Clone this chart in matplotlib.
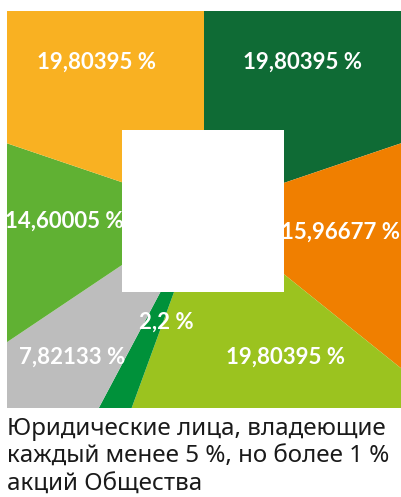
import matplotlib.pyplot as plt
from matplotlib.patches import Rectangle

# shares, clockwise from 12 o'clock
shares = [19.80395, 15.96677, 19.80395, 2.2, 7.82133, 14.60005, 19.80395]
labels = ['19,80395 %', '15,96677 %', '19,80395 %', '2,2 %', '7,82133 %', '14,60005 %', '19,80395 %']
colors = ['#0F6B35', '#F07F00', '#9BC31F', '#00913A', '#BDBDBD', '#60B133', '#F9B122']
title = 'Юридические лица, владеющие\nкаждый менее 5 %, но более 1 %\nакций Общества'

# label centres, pixels relative to pie centre
label_xy = [(99, 148), (137, -22), (82, -147), (-38, -112), (-132, -147), (-140, -11), (-107, 148)]

W, H = 401, 497
fig = plt.figure(figsize=(W / 100, H / 100), dpi=100)

# square plot area: x 7..401, y 11..408 (pixels from top), pie centre at (204, 210)
cx, cy = 204, 210
left, right, top, bottom = 7, 401, 11, 408
ax = fig.add_axes([left / W, (H - bottom) / H, (right - left) / W, (bottom - top) / H])

ax.pie(shares, colors=colors, radius=600, startangle=90, counterclock=False,
       wedgeprops=dict(linewidth=0, clip_on=True))
ax.set_aspect('auto')
ax.set_xlim(left - cx, right - cx)
ax.set_ylim(-(bottom - cy), cy - top)
ax.axis('off')

ax.add_patch(Rectangle((-82, -82), 162, 162, facecolor='white', edgecolor='none', zorder=3))

for (x, y), lab in zip(label_xy, labels):
    ax.text(x, y, lab, ha='center', va='center', color='white', fontsize=16,
            fontweight='bold', family='Lato', zorder=4, clip_on=False)

fig.text(7 / W, 1 - 417 / H, title, ha='left', va='top', fontsize=17.4,
         family='Noto Sans', color='#1a1a1a', linespacing=1.22)

fig.savefig('out.png', dpi=100)
